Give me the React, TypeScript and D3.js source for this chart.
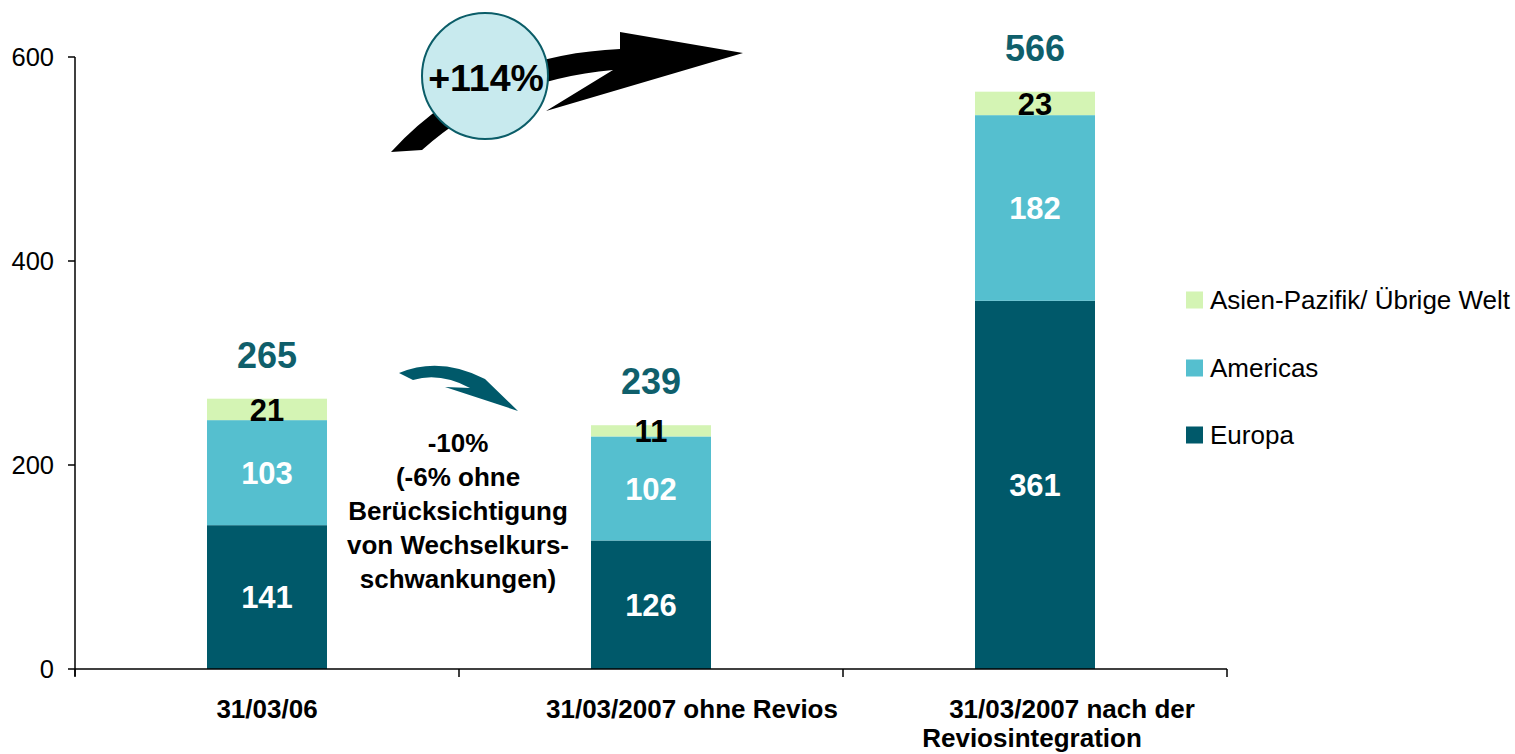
import React from "react";
import * as d3 from "d3";

const categories = ["31/03/06", "31/03/2007 ohne Revios", "31/03/2007 nach der Reviosintegration"];
const categoryLines = [["31/03/06"], ["31/03/2007 ohne Revios"], ["31/03/2007 nach der", "Reviosintegration"]];
const europa = [141, 126, 361];
const americas = [103, 102, 182];
const asien = [21, 11, 23];
const totals = [265, 239, 566];
const yTicks = [0, 200, 400, 600];
const seriesNames = ["Asien-Pazifik/ Übrige Welt", "Americas", "Europa"];
const annotationLines = ["-10%", "(-6% ohne", "Berücksichtigung", "von Wechselkurs-", "schwankungen)"];
const growthLabel = "+114%";

const COLORS: Record<string, string> = {
  Europa: "#00596a",
  Americas: "#55bfcf",
  "Asien-Pazifik/ Übrige Welt": "#d4f4b4",
};
const FONT = "Arial, 'Liberation Sans', Helvetica, sans-serif";

export default function App() {
  const W = 1515, H = 754;
  const x0 = 75, x1 = 1227, yTop = 57, yBot = 669;
  const x = d3.scaleBand<string>().domain(categories).range([x0, x1]).paddingInner(0).paddingOuter(0);
  const y = d3.scaleLinear().domain([0, 600]).range([yBot, yTop]);
  const barW = 120;

  const stacks = categories.map((c, i) => {
    const segs = [
      { name: "Europa", v: europa[i], color: COLORS.Europa, text: "#ffffff" },
      { name: "Americas", v: americas[i], color: COLORS.Americas, text: "#ffffff" },
      { name: "Asien-Pazifik/ Übrige Welt", v: asien[i], color: COLORS["Asien-Pazifik/ Übrige Welt"], text: "#000000" },
    ];
    let acc = 0;
    return segs.map((s) => {
      const r = { ...s, y0: acc, y1: acc + s.v };
      acc += s.v;
      return r;
    });
  });

  const labelDx = [0, 41, [37, -3]];
  const legendY = [300, 368, 435];

  const bigArrow = d3.path();
  bigArrow.moveTo(391, 152);
  bigArrow.quadraticCurveTo(480, 55, 620, 49);
  bigArrow.lineTo(620, 32);
  bigArrow.lineTo(743, 53);
  bigArrow.lineTo(546, 111);
  bigArrow.lineTo(613, 70);
  bigArrow.quadraticCurveTo(500, 80, 422, 150);
  bigArrow.closePath();

  const smallArrow = d3.path();
  smallArrow.moveTo(399, 373);
  smallArrow.quadraticCurveTo(440, 356, 485, 379);
  smallArrow.lineTo(518, 411);
  smallArrow.lineTo(445, 387);
  smallArrow.lineTo(470, 388);
  smallArrow.quadraticCurveTo(440, 372, 413, 380);
  smallArrow.closePath();

  return (
    <svg width={W} height={H} style={{ position: "absolute", left: 0, top: 0, background: "#fff" }} fontFamily={FONT}>
      {stacks.map((segs, i) => {
        const cx = (x(categories[i]) as number) + x.bandwidth() / 2;
        return (
          <g key={i}>
            {segs.map((s) => (
              <rect key={s.name} x={cx - barW / 2} y={y(s.y1)} width={barW} height={y(s.y0) - y(s.y1)} fill={s.color} />
            ))}
            {segs.map((s) => (
              <text key={s.name + "t"} x={cx} y={(y(s.y0) + y(s.y1)) / 2} dy="0.36em" textAnchor="middle"
                fontSize={31} fontWeight="bold" fill={s.text}>{s.v}</text>
            ))}
            <text x={cx} y={y(totals[i]) - 44} dy="0.36em" textAnchor="middle" fontSize={36} fontWeight="bold" fill="#0f5f6b">
              {totals[i]}
            </text>
          </g>
        );
      })}

      <line x1={x0} x2={x0} y1={yTop} y2={yBot + 7} stroke="#000" strokeWidth={1.5} />
      <line x1={x0} x2={x1} y1={yBot} y2={yBot} stroke="#000" strokeWidth={1.5} />
      {yTicks.map((t) => (
        <g key={t}>
          <line x1={x0 - 7} x2={x0} y1={y(t)} y2={y(t)} stroke="#000" strokeWidth={1.5} />
          <text x={54} y={y(t)} dy="0.36em" textAnchor="end" fontSize={25.5} fill="#000">{t}</text>
        </g>
      ))}
      {[...categories.map((c) => x(c) as number), x1].map((tx, i) => (
        <line key={i} x1={tx} x2={tx} y1={yBot} y2={yBot + 8} stroke="#000" strokeWidth={1.5} />
      ))}
      {categoryLines.map((lines, i) => {
        const cx = (x(categories[i]) as number) + x.bandwidth() / 2;
        return lines.map((ln, j) => {
          const d = labelDx[i];
          const dx = Array.isArray(d) ? d[j] : d;
          return (
            <text key={i + "-" + j} x={cx + dx} y={718 + j * 29} textAnchor="middle" fontSize={26} fontWeight="bold" fill="#000">
              {ln}
            </text>
          );
        });
      })}

      {seriesNames.map((n, i) => (
        <g key={n}>
          <rect x={1186} y={legendY[i] - 8.5} width={17} height={17} fill={COLORS[n]} />
          <text x={1210} y={legendY[i]} dy="0.36em" fontSize={26} fill="#000">{n}</text>
        </g>
      ))}

      <path d={smallArrow.toString()} fill="#00596a" />
      {annotationLines.map((l, i) => (
        <text key={i} x={458} y={443 + i * 34} dy="0.36em" textAnchor="middle" fontSize={26} fontWeight="bold" fill="#000">{l}</text>
      ))}

      <path d={bigArrow.toString()} fill="#000" />
      <circle cx={485} cy={76} r={63} fill="#c8eaee" stroke="#0b5d68" strokeWidth={2} />
      <text x={486} y={77} dy="0.36em" textAnchor="middle" fontSize={37.5} fontWeight="bold" fill="#000">{growthLabel}</text>
    </svg>
  );
}
